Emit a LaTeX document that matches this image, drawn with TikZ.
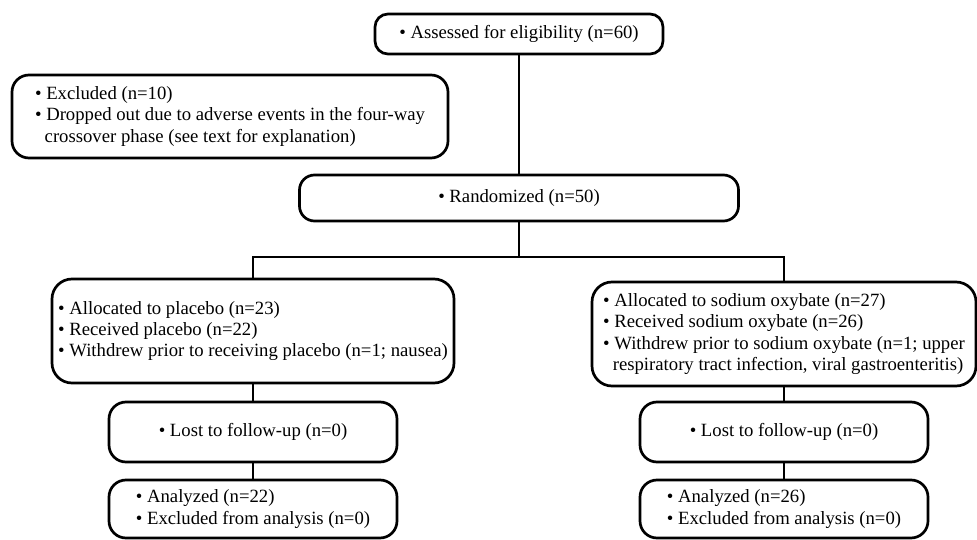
\documentclass[tikz,border=0pt]{standalone}
\usepackage{fontspec}
\setmainfont{Liberation Serif}
\newcommand\boxfont{\fontsize{18.7}{21.3}\selectfont}
\newcommand\cont{\hphantom{•}\,}
\tikzset{
  flowbox/.style={draw, line width=2.7pt, rounded corners=17pt, inner sep=0pt,
    font=\boxfont, align=left},
  link/.style={line width=2.7pt},
}
\begin{document}
\begin{tikzpicture}[x=1pt,y=-1pt]
  \useasboundingbox (0,0) rectangle (977,540);

  %%%%%%%%%%%%%%%%%%%%%%%%%%%%%%%%%%%%%%%%%%%%%%%%%%%%%%%%%%%%%%%%%%%%%%%%%%%
  %%%%  Enrolment
  \node[flowbox, rounded corners=13pt, minimum width=288pt, minimum height=40pt]
    (assess) at (519,34) {• Assessed for eligibility (n=60)};
  \node[flowbox, minimum width=436pt, minimum height=83pt]
    (excl) at (230,116.5) {• Excluded (n=10)\\
      • Dropped out due to adverse events in the four-way\\
      \cont crossover phase (see text for explanation)};
  \node[flowbox, rounded corners=15pt, minimum width=439pt, minimum height=46pt]
    (rand) at (519,198) {• Randomized (n=50)};
  \coordinate (split) at (519,257);

  %%%%%%%%%%%%%%%%%%%%%%%%%%%%%%%%%%%%%%%%%%%%%%%%%%%%%%%%%%%%%%%%%%%%%%%%%%%
  %%%%  Placebo arm
  \node[flowbox, rounded corners=20pt, minimum width=402pt, minimum height=104pt]
    (allocP) at (253,331) {• Allocated to placebo (n=23)\\
      • Received placebo (n=22)\\
      • Withdrew prior to receiving placebo (n=1; nausea)};
  \node[flowbox, minimum width=288pt, minimum height=60pt]
    (lostP) at (253,432) {• Lost to follow-up (n=0)};
  \node[flowbox, minimum width=288pt, minimum height=58pt]
    (anaP) at (253,509) {• Analyzed (n=22)\\
      • Excluded from analysis (n=0)};

  %%%%%%%%%%%%%%%%%%%%%%%%%%%%%%%%%%%%%%%%%%%%%%%%%%%%%%%%%%%%%%%%%%%%%%%%%%%
  %%%%  Sodium oxybate arm
  \node[flowbox, rounded corners=20pt, minimum width=384pt, minimum height=104pt]
    (allocS) at (784,334) {• Allocated to sodium oxybate (n=27)\\
      • Received sodium oxybate (n=26)\\
      • Withdrew prior to sodium oxybate (n=1; upper\\
      \cont respiratory tract infection, viral gastroenteritis)};
  \node[flowbox, minimum width=288pt, minimum height=60pt]
    (lostS) at (784,432) {• Lost to follow-up (n=0)};
  \node[flowbox, minimum width=288pt, minimum height=58pt]
    (anaS) at (784,509) {• Analyzed (n=26)\\
      • Excluded from analysis (n=0)};

  %%%%  Connectors
  \draw[link] (assess) -- (rand);
  \draw[link] (rand) -- (split);
  \draw[link] (allocP) |- (split) -| (allocS);
  \draw[link] (allocP) -- (lostP);
  \draw[link] (lostP) -- (anaP);
  \draw[link] (allocS) -- (lostS);
  \draw[link] (lostS) -- (anaS);
\end{tikzpicture}
\end{document}
